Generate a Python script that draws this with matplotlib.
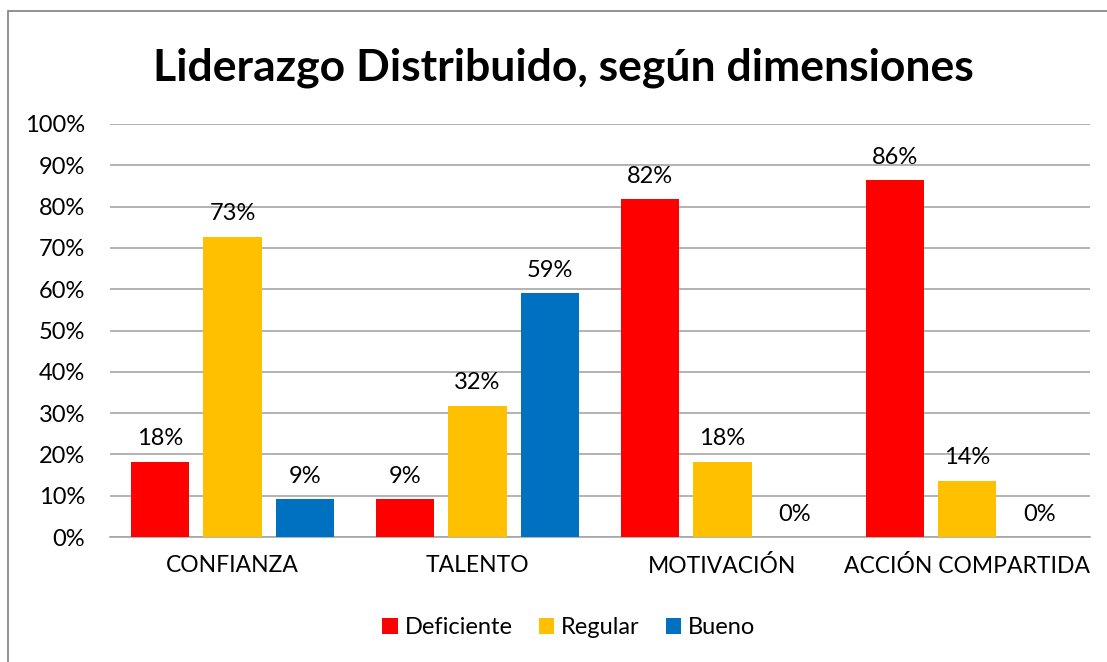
import matplotlib
matplotlib.use("Agg")
import matplotlib.pyplot as plt
import numpy as np
from matplotlib.patches import Rectangle
from matplotlib.ticker import PercentFormatter

categories = ["CONFIANZA", "TALENTO", "MOTIVACIÓN", "ACCIÓN COMPARTIDA"]
series = ["Deficiente", "Regular", "Bueno"]
deficiente = [18.2, 9.1, 81.8, 86.4]
regular = [72.7, 31.8, 18.2, 13.6]
bueno = [9.1, 59.1, 0.0, 0.0]
colors = ["#ff0000", "#ffc000", "#0070c0"]

plt.rcParams['font.family'] = ['Lato', 'DejaVu Sans']

fig = plt.figure(figsize=(11.07, 6.62), dpi=100)
ax = fig.add_axes([0.0994, 0.1888, 0.8852, 0.6239])

# chart border like the Excel frame
fig.patches.append(Rectangle((8 / 1107, -0.05), 1.2, 1 - 11 / 662 + 0.05,
                             transform=fig.transFigure, fill=False,
                             edgecolor="#898989", lw=1.3))

x = np.arange(len(categories))
w = 0.237
step = 0.296
for i, (vals, col, name) in enumerate(zip([deficiente, regular, bueno], colors, series)):
    pos = x + (i - 1) * step
    ax.bar(pos, vals, width=w, color=col, label=name, zorder=3)
    for p, v in zip(pos, vals):
        ax.text(p, v + 3.0, f"{round(v):.0f}%", ha="center", va="bottom",
                fontsize=17, color="#000000")

ax.set_xlim(-0.5, 3.5)
ax.set_ylim(0, 100)
ax.set_yticks(np.arange(0, 101, 10))
ax.yaxis.set_major_formatter(PercentFormatter(decimals=0))
ax.set_xticks(x)
ax.set_xticklabels(categories)
ax.grid(axis="y", color="#a6a6a6", lw=1.2, zorder=0)
for s in ["top", "right", "left"]:
    ax.spines[s].set_visible(False)
ax.spines["bottom"].set_color("#a6a6a6")
ax.spines["bottom"].set_linewidth(1.2)
ax.tick_params(axis="both", length=0, labelsize=17, colors="#000000")
ax.tick_params(axis="y", pad=18)
ax.tick_params(axis="x", pad=13, labelsize=16.5)

fig.text(0.509, 0.898, "Liderazgo Distribuido, según dimensiones", ha="center",
         va="center", fontsize=32, fontweight="bold")

fig.legend(loc="center", bbox_to_anchor=(0.514, 0.052), ncol=3, frameon=False,
           fontsize=17, handlelength=0.65, handleheight=0.65, handletextpad=0.3,
           columnspacing=1.1)

fig.savefig("out.png", dpi=100)
